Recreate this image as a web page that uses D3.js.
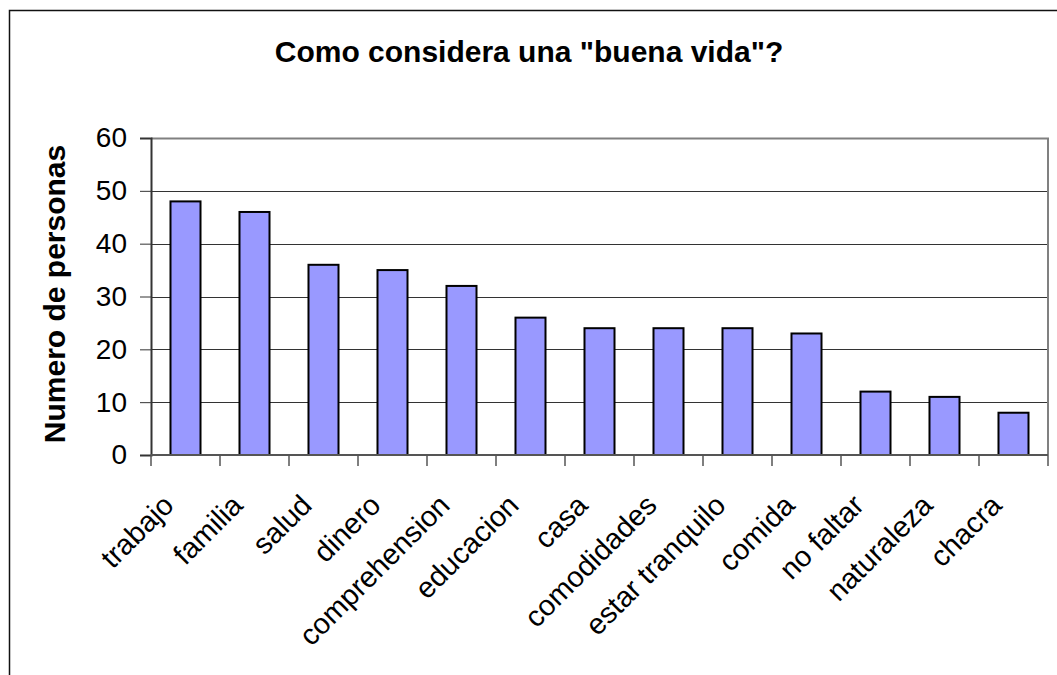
<!DOCTYPE html>
<html>
<head>
<meta charset="utf-8">
<script src="https://cdn.jsdelivr.net/npm/d3@7"></script>
<style>
  html, body { margin: 0; padding: 0; background: #fff; }
  svg { display: block; font-family: "Liberation Sans", Arial, sans-serif; }
</style>
</head>
<body>
<svg id="chart" width="1057" height="675"></svg>
<script>
// Survey answers: what counts as a "good life"
const categories = ["trabajo", "familia", "salud", "dinero", "comprehension", "educacion",
  "casa", "comodidades", "estar tranquilo", "comida", "no faltar", "naturaleza", "chacra"];
const personas = [48, 46, 36, 35, 32, 26, 24, 24, 24, 23, 12, 11, 8];
const yTicks = [0, 10, 20, 30, 40, 50, 60];

const titleText = 'Como considera una "buena vida"?';
const yTitle = "Numero de personas";

const svg = d3.select("#chart");
const W = 1057, H = 675;
const plot = { left: 151, right: 1048, top: 138, bottom: 455 };

// outer chart frame (runs off the right and bottom edges)
svg.append("rect")
  .attr("x", 9.5).attr("y", 10.5)
  .attr("width", W + 10).attr("height", H + 10)
  .attr("fill", "#fff").attr("stroke", "#111").attr("stroke-width", 1.5);

const x = d3.scaleBand().domain(categories).range([plot.left, plot.right])
  .paddingInner(0.565).paddingOuter(0.2825);
const y = d3.scaleLinear().domain([0, 60]).range([plot.bottom, plot.top]);

// horizontal gridlines
svg.append("g").selectAll("line").data(yTicks.filter(d => d > 0)).join("line")
  .attr("x1", plot.left).attr("x2", plot.right)
  .attr("y1", d => Math.round(y(d)) + 0.5).attr("y2", d => Math.round(y(d)) + 0.5)
  .attr("stroke", "#333").attr("stroke-width", 1);

// plot area frame (top and right in gray)
svg.append("path")
  .attr("d", `M${plot.left},${plot.top + 0.5}H${plot.right}V${plot.bottom}`)
  .attr("fill", "none").attr("stroke", "#808080").attr("stroke-width", 2);

// bars
svg.append("g").selectAll("rect").data(categories).join("rect")
  .attr("x", d => x(d))
  .attr("y", (d, i) => y(personas[i]))
  .attr("width", x.bandwidth())
  .attr("height", (d, i) => y(0) - y(personas[i]))
  .attr("fill", "#9999FF").attr("stroke", "#000").attr("stroke-width", 2);

// y axis
const yAxis = d3.axisLeft(y).tickValues(yTicks).tickSize(11).tickPadding(13);
const gy = svg.append("g").attr("transform", `translate(${plot.left},0)`).call(yAxis);
gy.select(".domain").attr("stroke", "#333").attr("stroke-width", 2);
gy.selectAll(".tick line").attr("stroke", "#333");
gy.selectAll("text").attr("font-size", 28).attr("fill", "#000")
  .attr("font-family", '"Liberation Sans", Arial, sans-serif');

// x axis: ticks sit on the category boundaries
const step = x.step();
const gx = svg.append("g");
gx.append("line")
  .attr("x1", plot.left).attr("x2", plot.right)
  .attr("y1", plot.bottom).attr("y2", plot.bottom)
  .attr("stroke", "#555").attr("stroke-width", 2);
gx.selectAll("line.tk").data(d3.range(categories.length + 1)).join("line")
  .attr("class", "tk")
  .attr("x1", i => plot.left + i * (plot.right - plot.left) / categories.length)
  .attr("x2", i => plot.left + i * (plot.right - plot.left) / categories.length)
  .attr("y1", plot.bottom).attr("y2", plot.bottom + 11)
  .attr("stroke", "#555").attr("stroke-width", 1.5);

// rotated category labels
gx.selectAll("text").data(categories).join("text")
  .attr("transform", d => `translate(${x(d) + x.bandwidth() / 2 - 10},${plot.bottom + 52}) rotate(-45)`)
  .attr("text-anchor", "end")
  .attr("font-size", 29)
  .attr("fill", "#000")
  .text(d => d);

// title
svg.append("text")
  .attr("x", 529).attr("y", 62)
  .attr("text-anchor", "middle")
  .attr("font-size", 30).attr("font-weight", "bold")
  .text(titleText);

// y axis title
svg.append("text")
  .attr("transform", `translate(65,294) rotate(-90)`)
  .attr("text-anchor", "middle")
  .attr("font-size", 30).attr("font-weight", "bold")
  .text(yTitle);
</script>
</body>
</html>
